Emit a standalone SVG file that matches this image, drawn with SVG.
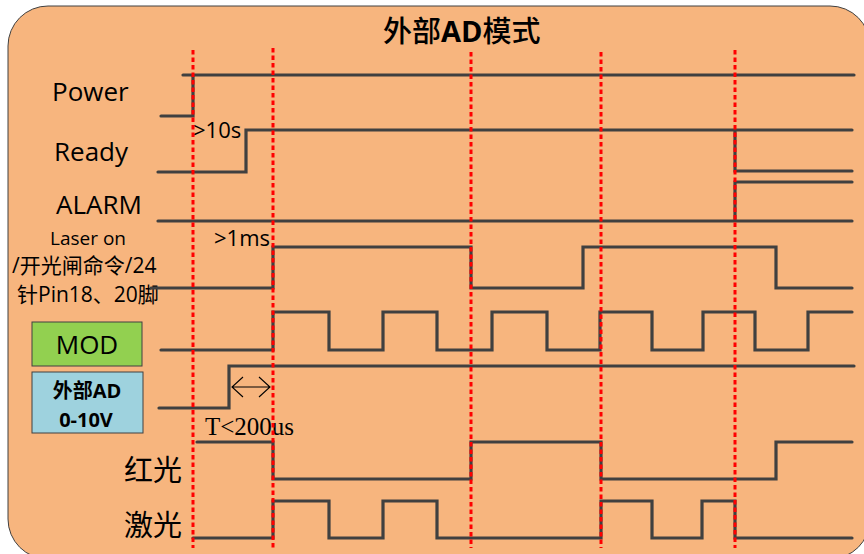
<svg xmlns="http://www.w3.org/2000/svg" width="864" height="554" viewBox="0 0 864 554">
  <defs>
    <style>
      .wave { fill: none; stroke: #404040; stroke-width: 3.2; stroke-linejoin: miter; stroke-linecap: round; }
      .lbl { font-family: "Open Sans", "Noto Sans CJK SC", sans-serif; fill: #000; }
      .cjk { font-family: "Noto Sans CJK SC", sans-serif; fill: #000; }
      .mark { fill: none; stroke: #FF0000; stroke-width: 3; stroke-dasharray: 4.5 3; }
      .thin { fill: none; stroke: #000; stroke-width: 1.1; }
    </style>
  </defs>

  <rect id="panel" x="8" y="6" width="862" height="553" rx="40" ry="40" fill="#F7B57E" stroke="#404040" stroke-width="1"/>

  <g id="title">
    <text x="383" y="42" font-size="29" font-weight="500" class="cjk">外部<tspan font-family="Open Sans, sans-serif" font-weight="bold">AD</tspan>模式</text>
  </g>

  <g id="sig-power">
    <text x="52" y="101" font-size="26" class="lbl">Power</text>
    <path class="wave" d="M161,116 H193 V75 H854 M183,75 H193"/>
  </g>

  <g id="sig-ready">
    <text x="54" y="161" font-size="26" class="lbl">Ready</text>
    <path class="wave" d="M158,172 H246 V130 H852 M735,130 V171 H852"/>
    <text x="193" y="138" font-size="22" class="lbl">&gt;10s</text>
  </g>

  <g id="sig-alarm">
    <text x="56" y="214" font-size="26" class="lbl">ALARM</text>
    <path class="wave" d="M158,221 H852 M735,221 V182 H852"/>
  </g>

  <g id="sig-laseron">
    <text x="50" y="245" font-size="19" class="lbl">Laser on</text>
    <text x="12" y="273" font-size="21" class="lbl">/开光闸命令/24</text>
    <text x="17" y="302" font-size="21" class="lbl">针Pin18、20脚</text>
    <path class="wave" d="M151,288 H273 V247 H471 V288 H583 V247 H776 V288 H852"/>
    <text x="214" y="246" font-size="22" class="lbl">&gt;1ms</text>
  </g>

  <g id="sig-mod">
    <rect x="32" y="322" width="110" height="44" fill="#92D050" stroke="#404040" stroke-width="1"/>
    <text x="87" y="354" font-size="26" text-anchor="middle" class="lbl">MOD</text>
    <path class="wave" d="M161,350 H273 V312 H329 V350 H383 V312 H437 V350 H492 V312 H547 V350 H600 V312 H652 V350 H703 V312 H755 V350 H808 V312 H852"/>
  </g>

  <g id="sig-ad">
    <rect x="32" y="372" width="111" height="61" fill="#9ED2DE" stroke="#404040" stroke-width="1"/>
    <text x="87" y="398" font-size="20" font-weight="bold" text-anchor="middle" class="lbl">外部AD</text>
    <text x="86" y="427" font-size="20" font-weight="bold" text-anchor="middle" class="lbl">0-10V</text>
    <path class="wave" d="M159,408 H229 V366 H854"/>
    <path class="thin" d="M232,387 H270 M243,377 L232,387 L243,397 M259,377 L270,387 L259,397"/>
    <text x="205" y="435" font-size="25" font-family="Liberation Serif, serif" fill="#000">T&lt;200us</text>
  </g>

  <g id="sig-red">
    <text x="124" y="481" font-size="29" class="cjk">红光</text>
    <path class="wave" d="M197,442 H273 V479 H471 V442 H601 V479 H776 V442 H852"/>
  </g>

  <g id="sig-laser">
    <text x="124" y="536" font-size="29" class="cjk">激光</text>
    <path class="wave" d="M193,538 H273 V501 H329 V538 H383 V501 H437 V538 H601 V501 H652 V538 H702 V501 H735 V538 H852"/>
  </g>

  <g id="connectors">
    <line class="mark" x1="193" y1="50" x2="193" y2="548"/>
    <line class="mark" x1="273" y1="48" x2="273" y2="548"/>
    <line class="mark" x1="471" y1="52" x2="471" y2="548"/>
    <line class="mark" x1="601" y1="52" x2="601" y2="548"/>
    <line class="mark" x1="735" y1="50" x2="735" y2="548"/>
  </g>
</svg>
